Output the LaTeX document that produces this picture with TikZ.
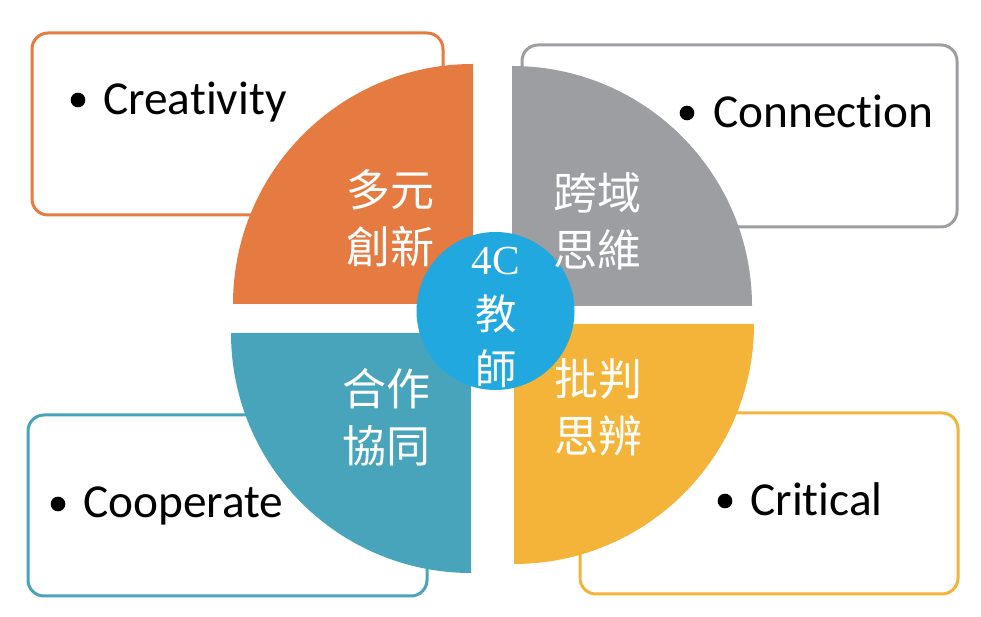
\documentclass[tikz,border=0pt]{standalone}
\usepackage{fontspec}
\setmainfont[Ligatures={NoCommon}]{Carlito}
\newfontfamily\cjk{Noto Sans CJK TC}
\newfontfamily\lserif{Liberation Serif}
\definecolor{cOrange}{HTML}{E57B41}
\definecolor{cGray}{HTML}{9D9EA2}
\definecolor{cTeal}{HTML}{47A4BA}
\definecolor{cYellow}{HTML}{F4B43A}
\definecolor{cBlue}{HTML}{21A8DF}
\tikzset{
  box/.style={draw=#1, line width=2.25pt, rounded corners=12pt, fill=white, inner sep=0pt},
  lbl/.style={font=\fontsize{35.5}{40}\selectfont, text=black, inner sep=0pt, anchor=base west},
  bul/.style={circle, fill=black, inner sep=0pt, minimum size=11pt},
  cjklbl/.style={font=\cjk\fontsize{33}{43}\selectfont, text=white, align=center, inner sep=0pt},
}
\begin{document}
\begin{tikzpicture}[x=0.75pt, y=0.75pt]
\useasboundingbox (0,0) rectangle (981,617);
% outer boxes
\node[box=cOrange, minimum width=411*0.75pt, minimum height=182*0.75pt] (bO) at (237.5,493) {};
\node[box=cGray, minimum width=435*0.75pt, minimum height=182*0.75pt] (bG) at (739.5,481) {};
\node[box=cTeal, minimum width=399*0.75pt, minimum height=181*0.75pt] (bT) at (227.5,111.5) {};
\node[box=cYellow, minimum width=378*0.75pt, minimum height=181*0.75pt] (bY) at (769,113.5) {};
% sectors
\fill[cOrange] (473,313) -- ++(0,240) arc (90:180:240) -- cycle;
\fill[cGray] (512,311) -- ++(240,0) arc (0:90:240) -- cycle;
\fill[cTeal] (471,284) -- ++(-240,0) arc (180:270:240) -- cycle;
\fill[cYellow] (514,293) -- ++(0,-240) arc (270:360:240) -- cycle;
% centre circle
\node[circle, fill=cBlue, minimum size=158*0.75pt, inner sep=0pt] (c) at (495.5,306) {};
% bullet labels
\node[bul] (d1) at (78,517) {};
\node[lbl] (t1) at (103,502) {Creativity};
\node[bul] (d2) at (687,504) {};
\node[lbl] (t2) at (713,489) {Connection};
\node[bul] (d3) at (58,113) {};
\node[lbl] (t3) at (83,99) {Cooperate};
\node[bul] (d4) at (725,116) {};
\node[lbl] (t4) at (750,101) {Critical};
% chinese labels
\node[cjklbl] (k1) at (390,398.5) {多元\\創新};
\node[cjklbl] (k2) at (597.5,395.5) {跨域\\思維};
\node[cjklbl] (k3) at (386.5,199.5) {合作\\協同};
\node[cjklbl] (k4) at (598,209.5) {批判\\思辨};
\node[cjklbl, font=\cjk\fontsize{31}{41}\selectfont] (k0) at (496,299.5) {{\lserif 4C}\\教\\師};
\end{tikzpicture}
\end{document}
